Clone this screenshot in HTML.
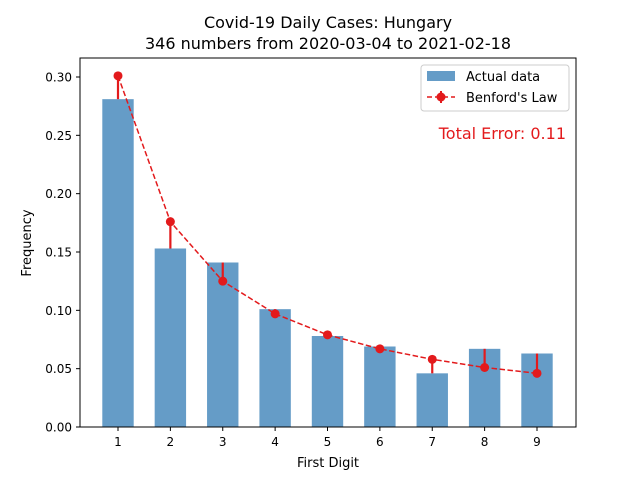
<!DOCTYPE html>
<html><head><meta charset="utf-8"><style>
body{margin:0;background:#fff;}
svg text{font-family:"DejaVu Sans","Liberation Sans",sans-serif;}
</style></head><body>
<svg id="chart" width="640" height="480" xmlns="http://www.w3.org/2000/svg">
<rect width="640" height="480" fill="#fff"/>
<text x="328" y="28" text-anchor="middle" font-size="16">Covid-19 Daily Cases: Hungary</text>
<text x="328" y="49" text-anchor="middle" font-size="16">346 numbers from 2020-03-04 to 2021-02-18</text>
<g id="bars"></g><g id="errs"></g><g id="line"></g><g id="axes"></g>
<rect x="80" y="58" width="496" height="369" fill="none" stroke="#000" stroke-width="1"/>
<text x="328" y="467" text-anchor="middle" font-size="13">First Digit</text>
<text transform="translate(31,243) rotate(-90)" text-anchor="middle" font-size="13">Frequency</text>
<g>
<rect x="421" y="65" width="148" height="46" fill="#fff" stroke="#ccc" rx="3"/>
<rect x="427" y="71" width="28" height="10" fill="#4a8bbd" opacity="0.85"/>
<text x="466" y="81" font-size="13">Actual data</text>
<line x1="427" y1="97" x2="455" y2="97" stroke="#e31a1c" stroke-width="1.5" stroke-dasharray="5,3"/>
<line x1="441" y1="91" x2="441" y2="103" stroke="#e31a1c" stroke-width="2"/>
<circle cx="441" cy="97" r="4.5" fill="#e31a1c"/>
<text x="466" y="102" font-size="13">Benford's Law</text>
</g>
<text x="566" y="139" text-anchor="end" font-size="16" fill="#e31a1c">Total Error: 0.11</text>
</svg>
<script>
const digits=[1,2,3,4,5,6,7,8,9];
const actual=[0.281,0.153,0.141,0.101,0.078,0.069,0.046,0.067,0.063];
const benford=[0.301,0.176,0.125,0.097,0.079,0.067,0.058,0.051,0.046];
const yTicks=[0,0.05,0.10,0.15,0.20,0.25,0.30];
const yTickLabels=["0.00","0.05","0.10","0.15","0.20","0.25","0.30"];
const NS="http://www.w3.org/2000/svg";
const X=d=>118+(d-1)*52.375;
const Y=v=>427-v*1166.7;
function mk(t,a,p){const e=document.createElementNS(NS,t);for(const k in a)e.setAttribute(k,a[k]);p.appendChild(e);return e;}
const bars=document.getElementById('bars'),errs=document.getElementById('errs'),line=document.getElementById('line'),axes=document.getElementById('axes');
digits.forEach((d,i)=>{
 const b=mk('rect',{x:X(d)-15.7,y:Y(actual[i]),width:31.4,height:Y(0)-Y(actual[i]),fill:'#4a8bbd',opacity:0.85},bars);
 
 
 const e=mk('line',{x1:X(d),x2:X(d),y1:Y(actual[i]),y2:Y(benford[i]),stroke:'#e31a1c','stroke-width':2.2},errs);
 
 
 const t=mk('line',{x1:X(d),x2:X(d),y1:427,y2:431,stroke:'#000'},axes);
 const l=mk('text',{x:X(d),y:446,'text-anchor':'middle','font-size':12},axes);
 l.textContent=d;
 
 
});
const p=mk('polyline',{points:digits.map((d,i)=>X(d)+','+Y(benford[i])).join(' '),fill:'none',stroke:'#e31a1c','stroke-width':1.5,'stroke-dasharray':'5.5,2.5'},line);


digits.forEach((d,i)=>{
 const c=mk('circle',{cx:X(d),cy:Y(benford[i]),r:4.5,fill:'#e31a1c'},line);
 
 
});
yTicks.forEach((v,i)=>{
 mk('line',{x1:76,x2:80,y1:Y(v),y2:Y(v),stroke:'#000'},axes);
 const l=mk('text',{x:72,y:Y(v)+4.5,'text-anchor':'end','font-size':12},axes);
 l.textContent=yTickLabels[i];
 
 
});
</script>
</body></html>
